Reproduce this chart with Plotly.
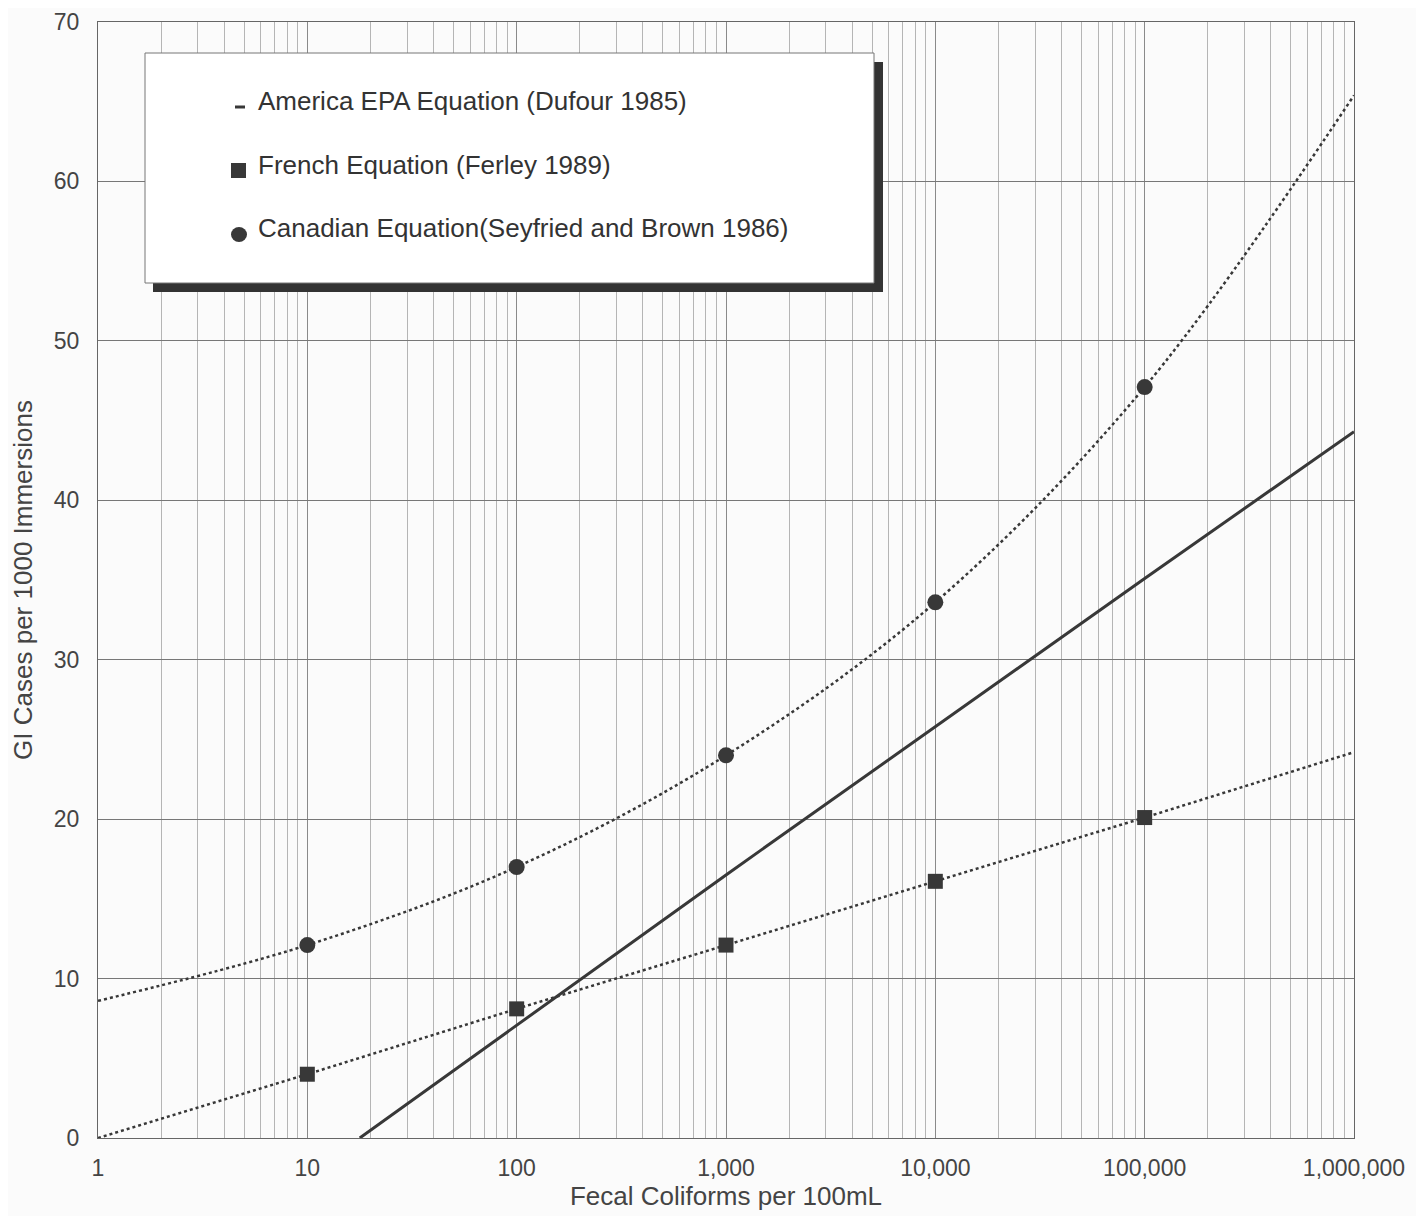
import plotly.graph_objects as go

# Fecal coliform levels (per 100 mL) at each decade of the log axis
coliforms = [1, 10, 100, 1000, 10000, 100000, 1000000]

# GI cases per 1000 immersions
french_gi = [0.0, 4.0, 8.1, 12.1, 16.1, 20.1, 24.2]
canadian_gi = [8.6, 12.1, 17.0, 24.0, 33.6, 47.1, 65.4]

epa_coliforms = [17.8, 1000, 100000, 1000000]
epa_gi = [0.0, 16.5, 35.1, 44.3]

x_tickvals = [1, 10, 100, 1000, 10000, 100000, 1000000]
x_ticktext = ['1', '10', '100', '1,000', '10,000', '100,000', '1,000,000']
y_tickvals = [0, 10, 20, 30, 40, 50, 60, 70]

legend_labels = ['America EPA Equation (Dufour 1985)',
                 'French Equation (Ferley 1989)',
                 'Canadian Equation(Seyfried and Brown 1986)']

W, H = 1424, 1216
PAGE = 8  # the html body margin
L, R, T, B = 98 - PAGE, 70 + PAGE, 22 - PAGE, 78 + PAGE
FONT = 'Liberation Sans, Arial, sans-serif'
INK = '#383838'


def px_x(p):
    return (p - PAGE - L) / (W - L - R)


def px_y(p):
    return (H - B - (p - PAGE)) / (H - B - T)


fig = go.Figure()

# dotted equations run over the whole axis, markers only at the computed points
fig.add_trace(go.Scatter(x=coliforms, y=canadian_gi, mode='lines',
                         line=dict(color=INK, width=2.5, dash='3px,3px', shape='spline')))
fig.add_trace(go.Scatter(x=coliforms, y=french_gi, mode='lines',
                         line=dict(color=INK, width=2.5, dash='3px,3px')))
fig.add_trace(go.Scatter(x=epa_coliforms, y=epa_gi, mode='lines',
                         line=dict(color=INK, width=3), name=legend_labels[0]))

fig.add_trace(go.Scatter(x=coliforms[1:-1], y=canadian_gi[1:-1], mode='markers',
                         marker=dict(symbol='circle', size=16, color=INK),
                         name=legend_labels[2]))
fig.add_trace(go.Scatter(x=coliforms[1:-1], y=french_gi[1:-1], mode='markers',
                         marker=dict(symbol='square', size=15, color=INK),
                         name=legend_labels[1]))

# hand-drawn legend box with drop shadow, like the original figure
shapes = [
    dict(type='rect', xref='paper', yref='paper',
         x0=px_x(153), x1=px_x(883), y0=px_y(292), y1=px_y(62),
         fillcolor='#333333', line=dict(width=0), layer='above'),
    dict(type='rect', xref='paper', yref='paper',
         x0=px_x(145), x1=px_x(874), y0=px_y(283), y1=px_y(53),
         fillcolor='white', line=dict(color='#777777', width=1), layer='above'),
    dict(type='line', xref='paper', yref='paper',
         x0=px_x(235), x1=px_x(245), y0=px_y(107), y1=px_y(107),
         line=dict(color=INK, width=3), layer='above'),
    dict(type='rect', xref='paper', yref='paper',
         x0=px_x(231), x1=px_x(246), y0=px_y(178), y1=px_y(163),
         fillcolor=INK, line=dict(width=0), layer='above'),
    dict(type='circle', xref='paper', yref='paper',
         x0=px_x(231), x1=px_x(247), y0=px_y(242), y1=px_y(227),
         fillcolor=INK, line=dict(width=0), layer='above'),
]

annotations = []
for label, ypix in zip(legend_labels, [101, 165, 228]):
    annotations.append(dict(text=label, xref='paper', yref='paper',
                            x=px_x(256), y=px_y(ypix), xanchor='left', yanchor='middle',
                            showarrow=False, font=dict(family=FONT, size=26, color='#333333')))

fig.update_layout(width=W, height=H, margin=dict(l=L, r=R, t=T, b=B, autoexpand=False),
                  paper_bgcolor='#fbfbfb', plot_bgcolor='#fbfbfb',
                  font=dict(family=FONT, size=23, color='#444444'),
                  shapes=shapes, annotations=annotations, showlegend=False)

fig.update_xaxes(type='log', range=[0, 6], tickvals=x_tickvals, ticktext=x_ticktext,
                 showgrid=True, gridcolor='#8a8a8a', gridwidth=1,
                 minor=dict(dtick='D1', showgrid=True, gridcolor='#b5b5b5', gridwidth=1),
                 showline=True, linecolor='#666666', linewidth=1, mirror=True,
                 ticks='', ticklabelstandoff=9, zeroline=False, automargin=False,
                 title=dict(text='Fecal Coliforms per 100mL', standoff=6,
                            font=dict(size=26, color='#444444')))

fig.update_yaxes(range=[0, 70], tickvals=y_tickvals,
                 showgrid=True, gridcolor='#777777', gridwidth=1,
                 showline=True, linecolor='#666666', linewidth=1, mirror=True,
                 ticks='', ticklabelstandoff=13, zeroline=False, automargin=False,
                 title=dict(text='GI Cases per 1000 Immersions', standoff=16,
                            font=dict(size=26, color='#444444')))

fig.write_html("out.html")
